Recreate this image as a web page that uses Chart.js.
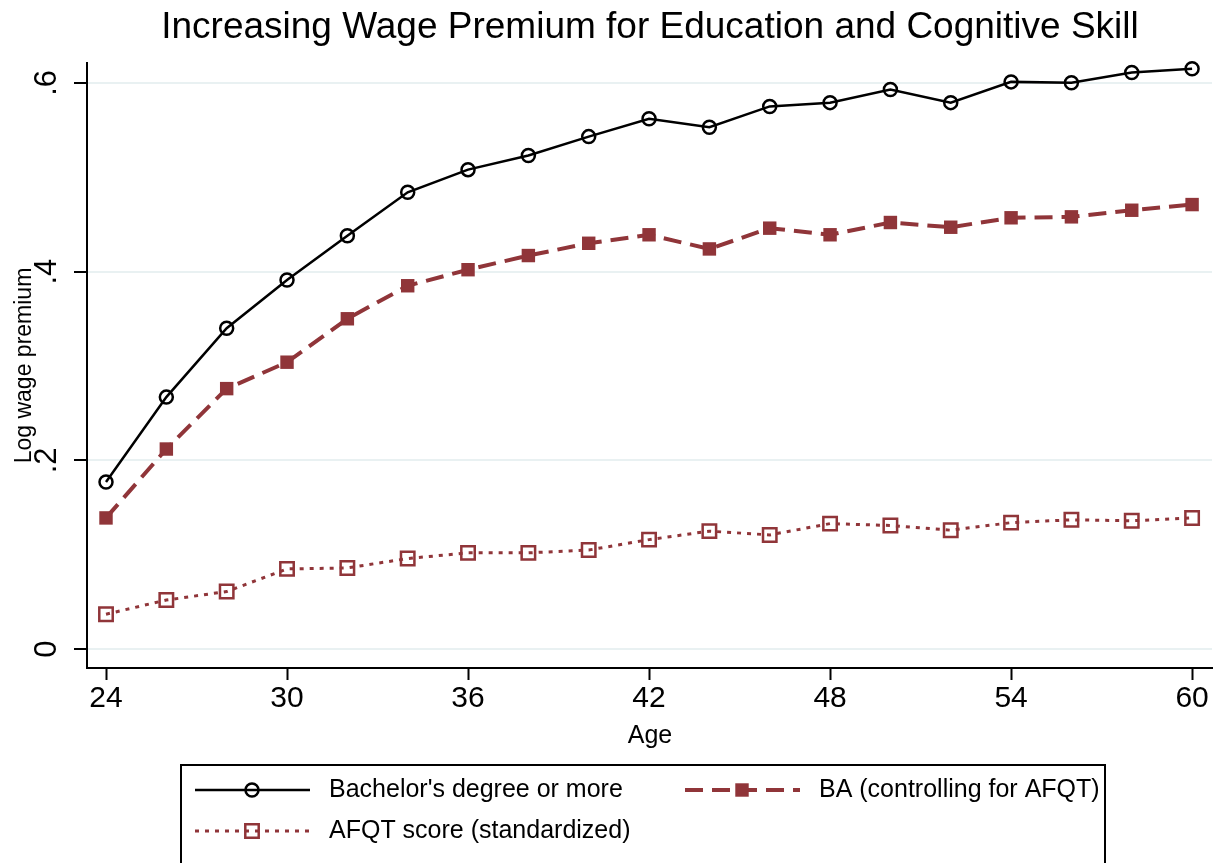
<!DOCTYPE html>
<html>
<head>
<meta charset="utf-8">
<script src="https://cdn.jsdelivr.net/npm/chart.js@4.4.1/dist/chart.umd.min.js"></script>
<style>
html,body{margin:0;padding:0;background:#fff;}
#wrap{width:1224px;height:863px;position:relative;}
</style>
</head>
<body>
<div id="wrap"><canvas id="c" width="1224" height="863"></canvas></div>
<script>
const titleText = "Increasing Wage Premium for Education and Cognitive Skill";
const yAxisTitle = "Log wage premium";
const xAxisTitle = "Age";
const ages = [24,26,28,30,32,34,36,38,40,42,44,46,48,50,52,54,56,58,60];
const bachelor = [0.177,0.267,0.340,0.391,0.438,0.484,0.508,0.523,0.543,0.562,0.553,0.575,0.579,0.593,0.579,0.601,0.600,0.611,0.615];
const baControl = [0.139,0.212,0.276,0.304,0.350,0.385,0.402,0.417,0.430,0.439,0.424,0.446,0.439,0.452,0.447,0.457,0.458,0.465,0.471];
const afqt = [0.037,0.052,0.061,0.085,0.086,0.096,0.102,0.102,0.105,0.116,0.125,0.121,0.133,0.131,0.126,0.134,0.137,0.136,0.139];
const seriesNames = ["Bachelor's degree or more","BA (controlling for AFQT)","AFQT score (standardized)"];
const xTickValues = [24,30,36,42,48,54,60];
const xTickLabels = ["24","30","36","42","48","54","60"];
const yTickValues = [0,0.2,0.4,0.6];
const yTickLabels = ["0",".2",".4",".6"];

const FONT = "'Liberation Sans', Arial, Helvetica, sans-serif";
const MAROON = "#903539";
const toXY = (vals) => ages.map((a,i)=>({x:a,y:vals[i]}));

const textPlugin = {
  id:'stataText',
  afterDraw(chart){
    const ctx = chart.ctx;
    const ca = chart.chartArea;
    const ys = chart.scales.y;
    ctx.save();
    ctx.fillStyle = '#000';
    // title
    ctx.font = "37px " + FONT;
    ctx.textAlign = 'center';
    ctx.textBaseline = 'alphabetic';
    ctx.fillText(titleText, 650, 38);
    // y tick labels rotated
    ctx.font = "31px " + FONT;
    yTickValues.forEach((v,i)=>{
      const py = ys.getPixelForValue(v);
      ctx.save();
      ctx.translate(56, py);
      ctx.rotate(-Math.PI/2);
      ctx.textAlign='center';
      ctx.textBaseline='alphabetic';
      ctx.fillText(yTickLabels[i],0,0);
      ctx.restore();
    });
    // y title
    ctx.save();
    ctx.font = "23px " + FONT;
    ctx.translate(31, (ca.top+ca.bottom)/2);
    ctx.rotate(-Math.PI/2);
    ctx.textAlign='center';
    ctx.textBaseline='alphabetic';
    ctx.fillText(yAxisTitle,0,0);
    ctx.restore();
    // x title
    ctx.font = "25px " + FONT;
    ctx.textAlign='center';
    ctx.textBaseline='alphabetic';
    ctx.fillText(xAxisTitle,650,743);
    // legend box
    ctx.strokeStyle='#000';
    ctx.lineWidth=2;
    ctx.strokeRect(181,765,924,110);
    const entries = [
      {ds:0, x:195, y:790},
      {ds:1, x:685, y:790},
      {ds:2, x:195, y:831}
    ];
    entries.forEach(e=>{
      const d = chart.data.datasets[e.ds];
      ctx.save();
      ctx.strokeStyle = d.borderColor;
      ctx.lineWidth = d.borderWidth;
      ctx.setLineDash(d.borderDash||[]);
      ctx.beginPath();
      ctx.moveTo(e.x, e.y);
      ctx.lineTo(e.x+115, e.y);
      ctx.stroke();
      ctx.setLineDash([]);
      ctx.fillStyle = d.pointBackgroundColor;
      ctx.strokeStyle = d.pointBorderColor;
      ctx.lineWidth = d.pointBorderWidth;
      ctx.beginPath();
      if (d.pointStyle==='circle'){
        ctx.arc(e.x+57,e.y,d.pointRadius,0,Math.PI*2);
      } else {
        const s = Math.SQRT1_2*d.pointRadius;
        ctx.rect(e.x+57-s,e.y-s,2*s,2*s);
      }
      ctx.fill();
      if (d.pointBorderWidth>0) ctx.stroke();
      ctx.restore();
      ctx.font = "25px " + FONT;
      ctx.fillStyle='#000';
      ctx.textAlign='left';
      ctx.textBaseline='middle';
      ctx.fillText(d.label, e.x+134, e.y);
    });
    ctx.restore();
  }
};

new Chart(document.getElementById('c'), {
  type:'line',
  data:{
    datasets:[
      {label:seriesNames[0], data:toXY(bachelor), borderColor:'#000', borderWidth:2.5, pointStyle:'circle', pointRadius:6.5, pointBorderWidth:2.5, pointBorderColor:'#000', pointBackgroundColor:'rgba(0,0,0,0)', fill:false, tension:0, clip:false},
      {label:seriesNames[1], data:toXY(baControl), borderColor:MAROON, borderWidth:4, borderDash:[18,9], pointStyle:'rect', pointRadius:9.5, pointBorderWidth:0, pointBorderColor:MAROON, pointBackgroundColor:MAROON, fill:false, tension:0, clip:false},
      {label:seriesNames[2], data:toXY(afqt), borderColor:MAROON, borderWidth:3, borderDash:[4,6], pointStyle:'rect', pointRadius:9.5, pointBorderWidth:2.5, pointBorderColor:MAROON, pointBackgroundColor:'rgba(0,0,0,0)', fill:false, tension:0, clip:false}
    ]
  },
  options:{
    responsive:false,
    animation:false,
    devicePixelRatio:1,
    layout:{padding:{left:74, top:63, right:11, bottom:100}},
    plugins:{legend:{display:false}, title:{display:false}, tooltip:{enabled:false}},
    scales:{
      x:{
        type:'linear', min:23.37, max:60.66,
        afterBuildTicks:(s)=>{ s.ticks = xTickValues.map(v=>({value:v})); },
        afterFit:(s)=>{ s.height = 95; },
        border:{display:true, color:'#000', width:2},
        grid:{display:true, drawOnChartArea:false, drawTicks:true, tickLength:12, tickColor:'#000', tickWidth:2},
        ticks:{color:'#000', font:{family:FONT, size:30}, padding:1, maxRotation:0, autoSkip:false,
          callback:(v)=>{ const i = xTickValues.indexOf(v); return i>=0 ? xTickLabels[i] : ''; }}
      },
      y:{
        type:'linear', min:-0.02, max:0.621,
        afterBuildTicks:(s)=>{ s.ticks = yTickValues.map(v=>({value:v})); },
        afterFit:(s)=>{ s.width = 13; },
        border:{display:true, color:'#000', width:2},
        grid:{display:true, color:'#e9f1f2', lineWidth:2, drawTicks:true, tickLength:13, tickColor:'#000', tickWidth:2},
        ticks:{display:false}
      }
    }
  },
  plugins:[textPlugin]
});
</script>
</body>
</html>
